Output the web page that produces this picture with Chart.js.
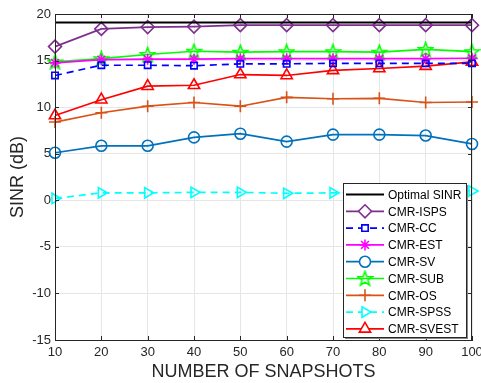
<!DOCTYPE html>
<html>
<head>
<meta charset="utf-8">
<script src="https://cdn.jsdelivr.net/npm/chart.js@4.4.0/dist/chart.umd.min.js"></script>
<style>
  html, body { margin: 0; padding: 0; background: #fff; }
  #wrap { width: 481px; height: 383px; }
</style>
</head>
<body>
<div id="wrap"><canvas id="sinrChart" width="481" height="383"></canvas></div>
<script>
// ===== DATA =====
const snapshots = [10, 20, 30, 40, 50, 60, 70, 80, 90, 100];
const yTicks = [-15, -10, -5, 0, 5, 10, 15, 20];

const optimalSinr = [19.1, 19.1, 19.1, 19.1, 19.1, 19.1, 19.1, 19.1, 19.1, 19.1];
const cmrIsps = [16.5, 18.4, 18.6, 18.65, 18.8, 18.8, 18.8, 18.8, 18.8, 18.8];
const cmrCc = [13.4, 14.5, 14.5, 14.45, 14.65, 14.65, 14.7, 14.7, 14.7, 14.7];
const cmrEst = [14.75, 15.1, 15.15, 15.15, 15.2, 15.2, 15.2, 15.2, 15.2, 15.25];
const cmrSv = [5.1, 5.85, 5.85, 6.75, 7.15, 6.3, 7.05, 7.05, 6.95, 6.05];
const cmrSub = [14.85, 15.2, 15.65, 16.0, 15.9, 15.95, 15.95, 15.9, 16.2, 15.95];
const cmrOs = [8.4, 9.4, 10.1, 10.5, 10.1, 11.05, 10.9, 10.95, 10.5, 10.55];
const cmrSpss = [0.2, 0.8, 0.8, 0.85, 0.85, 0.75, 0.8, 0.85, 0.9, 1.0];
const cmrSvest = [9.1, 10.8, 12.25, 12.35, 13.5, 13.4, 13.95, 14.15, 14.4, 14.85];

function xy(values) {
  return values.map((v, i) => ({ x: snapshots[i], y: v }));
}

// pentagram marker (Chart.js has no 5-point star)
function makePentagram(color) {
  const c = document.createElement("canvas");
  c.width = 17;
  c.height = 17;
  const g = c.getContext("2d");
  g.strokeStyle = color;
  g.lineWidth = 1.6;
  g.beginPath();
  for (let i = 0; i < 10; i++) {
    const r = i % 2 === 0 ? 7.6 : 3.1;
    const a = -Math.PI / 2 + (i * Math.PI) / 5;
    const px = 8.5 + r * Math.cos(a);
    const py = 9 + r * Math.sin(a);
    if (i === 0) g.moveTo(px, py);
    else g.lineTo(px, py);
  }
  g.closePath();
  g.stroke();
  return c;
}

function series(label, values, color, style, extra) {
  return Object.assign(
    {
      label: label,
      data: xy(values),
      borderColor: color,
      backgroundColor: "rgba(0,0,0,0)",
      borderWidth: 1.7,
      pointStyle: style,
      pointRadius: 5.5,
      pointBorderWidth: 1.6,
      pointBorderColor: color,
      pointBackgroundColor: "rgba(0,0,0,0)",
      tension: 0,
    },
    extra || {}
  );
}

const datasets = [
  series("Optimal SINR", optimalSinr, "#000000", false, { pointRadius: 0, borderWidth: 2 }),
  series("CMR-ISPS", cmrIsps, "#7E2F8E", "rectRot", { pointRadius: 6.5 }),
  series("CMR-CC", cmrCc, "#0000FF", "rect", { borderDash: [7, 5], pointRadius: 4.5 }),
  series("CMR-EST", cmrEst, "#FF00FF", "star", { pointRadius: 5.5 }),
  series("CMR-SV", cmrSv, "#0072BD", "circle", { pointRadius: 5.5 }),
  series("CMR-SUB", cmrSub, "#00FF00", makePentagram("#00FF00")),
  series("CMR-OS", cmrOs, "#D95319", "cross", { pointRadius: 6 }),
  series("CMR-SPSS", cmrSpss, "#00FFFF", "triangle", { borderDash: [7, 5], pointRotation: 90, pointRadius: 6 }),
  series("CMR-SVEST", cmrSvest, "#FF0000", "triangle", { pointRadius: 6.5 }),
];

/* ===== FRAME + INNER TICKS (matlab style) ===== */
const framePlugin = {
  id: "frame",
  afterDatasetsDraw(chart) {
    const ctx = chart.ctx;
    const a = chart.chartArea;
    const xs = chart.scales.x;
    const ys = chart.scales.y;
    ctx.save();
    ctx.strokeStyle = "#262626";
    ctx.lineWidth = 1;
    ctx.strokeRect(a.left + 0.5, a.top + 0.5, a.right - a.left - 1, a.bottom - a.top);
    ctx.beginPath();
    snapshots.forEach((s) => {
      const px = Math.round(xs.getPixelForValue(s)) + 0.5;
      ctx.moveTo(px, a.bottom);
      ctx.lineTo(px, a.bottom - 4);
      ctx.moveTo(px, a.top);
      ctx.lineTo(px, a.top + 4);
    });
    yTicks.forEach((t) => {
      const py = Math.round(ys.getPixelForValue(t)) + 0.5;
      ctx.moveTo(a.left, py);
      ctx.lineTo(a.left + 4, py);
      ctx.moveTo(a.right, py);
      ctx.lineTo(a.right - 4, py);
    });
    ctx.stroke();
    ctx.restore();
  },
};

/* ===== LEGEND BOX INSIDE PLOT ===== */
const legendPlugin = {
  id: "boxLegend",
  afterDraw(chart) {
    const ctx = chart.ctx;
    const a = chart.chartArea;
    const boxW = 123;
    const boxH = 154;
    const bx = a.right - 6 - boxW;
    const by = a.bottom - 3 - boxH;
    const rowH = 16.8;
    ctx.save();
    ctx.fillStyle = "#888";
    ctx.fillRect(bx + 2, by + 2, boxW, boxH);
    ctx.fillStyle = "#fff";
    ctx.fillRect(bx, by, boxW, boxH);
    ctx.strokeStyle = "#262626";
    ctx.lineWidth = 1;
    ctx.strokeRect(bx + 0.5, by + 0.5, boxW, boxH);
    ctx.font = "12px Arial, 'Liberation Sans', sans-serif";
    ctx.textBaseline = "middle";
    chart.data.datasets.forEach((ds, i) => {
      const cy = by + 11.5 + i * rowH;
      const x0 = bx + 3;
      const x1 = bx + 41;
      ctx.strokeStyle = ds.borderColor;
      ctx.lineWidth = ds.borderWidth;
      ctx.setLineDash(ds.borderDash || []);
      ctx.beginPath();
      ctx.moveTo(x0, cy);
      ctx.lineTo(x1, cy);
      ctx.stroke();
      ctx.setLineDash([]);
      if (ds.pointStyle) {
        ctx.lineWidth = ds.pointBorderWidth;
        ctx.strokeStyle = ds.pointBorderColor;
        ctx.fillStyle = "#fff";
        Chart.helpers.drawPoint(
          ctx,
          { pointStyle: ds.pointStyle, radius: ds.pointRadius, rotation: ds.pointRotation || 0, borderWidth: ds.pointBorderWidth },
          (x0 + x1) / 2,
          cy
        );
      }
      ctx.fillStyle = "#000";
      ctx.fillText(ds.label, bx + 45, cy + 1);
    });
    ctx.restore();
  },
};

const ctx = document.getElementById("sinrChart").getContext("2d");

new Chart(ctx, {
  type: "line",
  data: { datasets: datasets },
  plugins: [framePlugin, legendPlugin],
  options: {
    responsive: false,
    animation: false,
    clip: false,
    layout: { padding: { top: 14, right: 9, left: 0, bottom: 0 } },
    plugins: {
      legend: { display: false },
      tooltip: { enabled: false },
    },
    scales: {
      x: {
        type: "linear",
        min: 10,
        max: 100,
        afterBuildTicks(scale) {
          scale.ticks = snapshots.map((v) => ({ value: v }));
        },
        grid: { color: "#e6e6e6", drawTicks: false },
        border: { color: "#262626" },
        ticks: {
          color: "#262626",
          font: { size: 13, family: "Arial, 'Liberation Sans', sans-serif" },
          padding: 5,
          maxRotation: 0,
        },
        title: {
          display: true,
          text: "NUMBER OF SNAPSHOTS",
          color: "#262626",
          font: { size: 18, family: "Arial, 'Liberation Sans', sans-serif" },
          padding: { top: 3, bottom: 0 },
        },
        afterFit(scale) {
          scale.height = 43;
          scale.paddingRight = 0;
          scale.paddingLeft = 0;
        },
      },
      y: {
        min: -15,
        max: 20,
        afterBuildTicks(scale) {
          scale.ticks = yTicks.map((v) => ({ value: v }));
        },
        grid: { color: "#e6e6e6", drawTicks: false },
        border: { color: "#262626" },
        ticks: {
          color: "#262626",
          font: { size: 13, family: "Arial, 'Liberation Sans', sans-serif" },
          padding: 4,
        },
        title: {
          display: true,
          text: "SINR (dB)",
          color: "#262626",
          font: { size: 18, family: "Arial, 'Liberation Sans', sans-serif" },
          padding: { top: 7, bottom: 4 },
        },
        afterFit(scale) {
          scale.width = 55;
        },
      },
    },
  },
});
</script>
</body>
</html>
